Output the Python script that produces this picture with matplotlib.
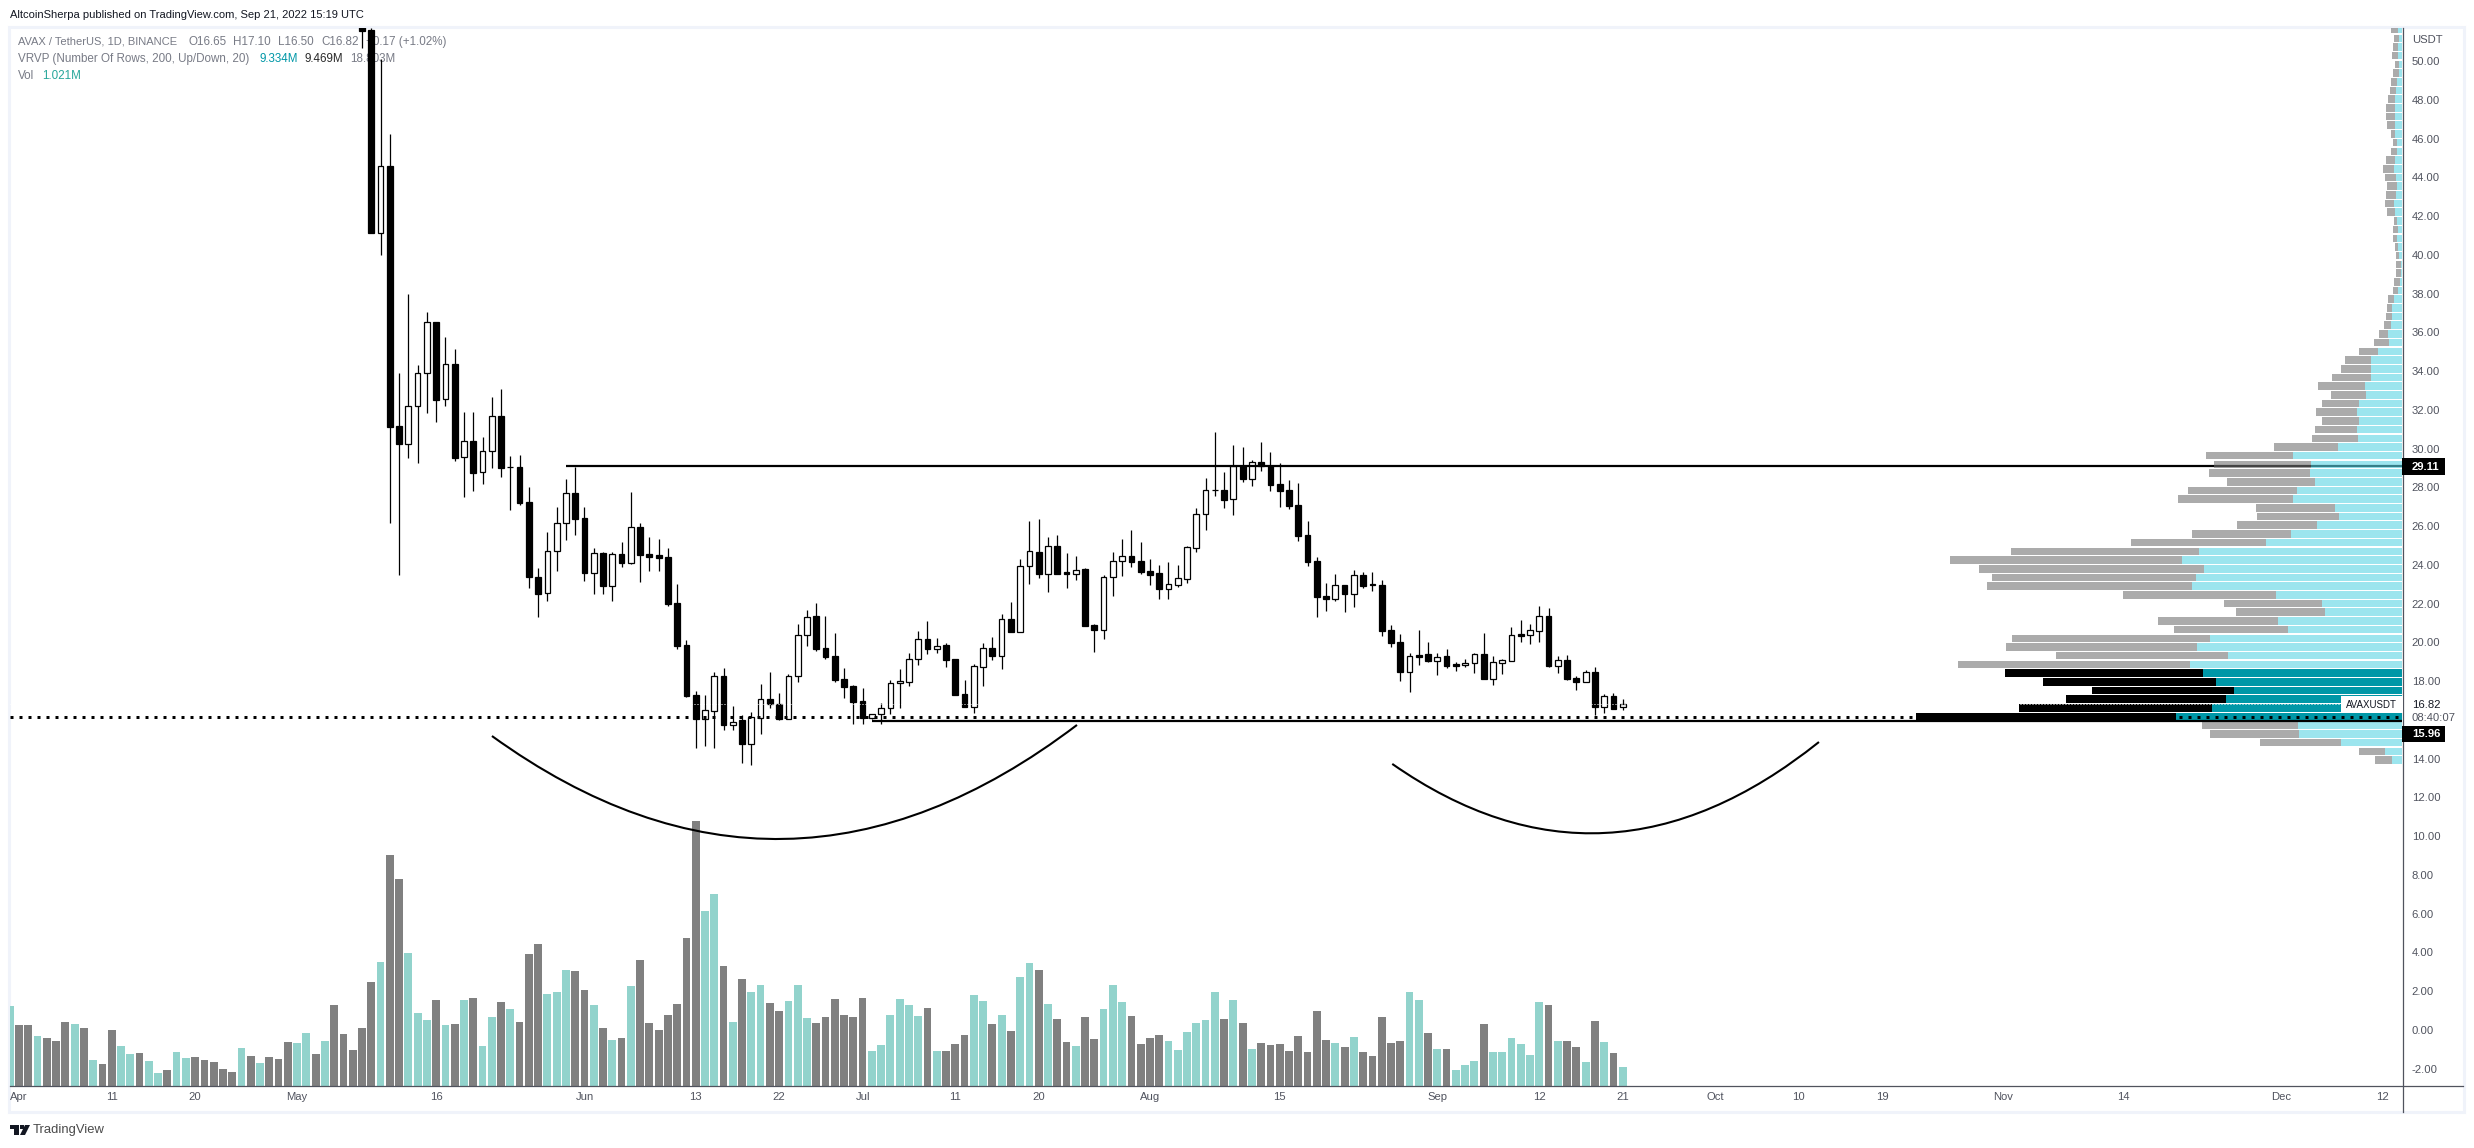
#!/usr/bin/env python3
import numpy as np
import matplotlib
matplotlib.use('Agg')
import matplotlib.pyplot as plt
from matplotlib.patches import Rectangle, PathPatch, Polygon
from matplotlib.path import Path
from matplotlib.lines import Line2D

W, H = 2474, 1148
plt.rcParams['font.family'] = ['Liberation Sans', 'DejaVu Sans']

# candles, first one is day 37 counted from Apr 1
candle_start = 37
opens = [51.74, 51.60, 41.14, 44.58, 31.17, 30.25, 32.18, 33.88, 36.51, 32.54, 34.35, 29.55, 30.37, 28.77, 29.86, 31.66,
         29.04, 29.03, 27.23, 23.37, 22.53, 24.70, 26.14, 27.69, 26.40, 23.60, 24.60, 22.93, 24.54, 24.11, 25.94, 24.54,
         24.49, 24.39, 22.02, 19.85, 17.27, 16.06, 16.48, 18.25, 15.75, 15.98, 14.77, 16.12, 17.06, 16.84, 16.03, 18.25,
         20.40, 21.35, 19.69, 19.28, 18.09, 17.75, 16.97, 16.08, 16.29, 16.60, 17.89, 17.97, 19.12, 20.16, 19.68, 19.85,
         19.13, 17.32, 16.68, 18.75, 19.69, 19.31, 21.19, 20.55, 23.92, 24.65, 23.55, 24.96, 23.62, 23.55, 23.77, 20.88,
         20.66, 23.36, 24.18, 24.46, 24.20, 23.68, 23.58, 22.77, 22.98, 23.29, 24.89, 26.61, 27.85, 27.85, 27.38, 29.12,
         28.45, 29.29, 29.12, 28.17, 27.86, 27.09, 25.54, 24.18, 22.38, 22.26, 22.94, 22.51, 23.46, 23.01, 22.94, 20.62,
         20.00, 18.49, 19.35, 19.38, 19.06, 19.28, 18.87, 18.85, 18.95, 19.38, 18.13, 18.95, 19.06, 20.42, 20.40, 20.61,
         21.35, 18.80, 19.07, 18.15, 17.97, 18.45, 16.65, 17.22, 16.65]
highs = [51.74, 51.70, 50.09, 46.22, 33.88, 37.98, 34.30, 37.05, 36.51, 35.74, 35.12, 31.87, 31.87, 30.58, 32.65, 33.06,
         29.60, 29.65, 28.00, 23.84, 25.70, 26.99, 28.43, 29.07, 26.99, 24.85, 24.65, 24.65, 25.18, 27.74, 26.16, 25.44,
         25.33, 24.85, 23.01, 20.12, 17.47, 17.29, 18.45, 18.66, 16.72, 16.24, 16.39, 17.84, 18.45, 17.37, 18.35, 20.93,
         21.66, 22.02, 21.35, 20.47, 18.66, 17.80, 17.63, 16.29, 16.85, 18.04, 18.61, 19.43, 20.57, 21.09, 20.21, 19.95,
         19.13, 18.04, 18.87, 19.95, 20.26, 21.45, 22.08, 24.29, 26.26, 26.37, 25.42, 25.52, 24.59, 24.44, 23.82, 20.93,
         23.46, 24.65, 25.32, 25.78, 25.16, 24.30, 23.99, 24.13, 23.99, 24.96, 26.93, 28.47, 30.84, 28.77, 30.17, 30.06,
         29.39, 30.32, 29.81, 29.24, 28.38, 28.21, 26.25, 24.39, 23.06, 23.53, 22.94, 23.72, 23.61, 23.61, 23.20, 20.88,
         20.42, 19.43, 20.64, 20.00, 19.43, 19.66, 18.99, 19.13, 19.43, 20.47, 19.28, 19.13, 20.78, 21.16, 20.95, 21.88,
         21.76, 19.28, 19.33, 18.27, 18.56, 18.73, 17.32, 17.37, 17.10]
lows = [50.65, 41.14, 39.99, 26.14, 23.48, 29.51, 29.26, 31.84, 31.37, 32.20, 29.38, 27.50, 27.83, 28.17, 29.00, 28.53,
        26.83, 27.11, 22.81, 21.31, 22.15, 23.68, 25.28, 25.54, 23.17, 22.51, 22.51, 22.15, 23.89, 24.06, 23.12, 23.68,
        23.68, 21.90, 19.67, 17.18, 14.57, 14.67, 14.57, 15.50, 15.50, 13.80, 13.69, 15.29, 16.63, 15.98, 16.03, 17.97,
        19.83, 19.57, 19.16, 17.97, 17.15, 15.79, 15.79, 16.05, 15.79, 16.31, 16.62, 17.75, 18.83, 19.42, 19.47, 18.75,
        17.30, 16.65, 16.36, 17.77, 19.09, 18.64, 20.55, 20.55, 23.00, 23.34, 22.62, 23.55, 22.81, 23.22, 20.86, 19.52,
        20.17, 22.39, 23.42, 23.89, 23.53, 22.96, 22.24, 22.24, 22.86, 23.08, 24.66, 25.80, 27.57, 26.93, 26.59, 28.29,
        28.07, 28.86, 27.83, 27.00, 26.90, 25.25, 23.94, 21.31, 21.64, 22.15, 21.57, 21.83, 22.81, 22.65, 20.33, 19.76,
        18.01, 17.44, 18.83, 18.99, 18.32, 18.68, 18.53, 18.75, 18.42, 18.13, 17.80, 18.37, 19.06, 20.02, 19.92, 20.02,
        18.73, 18.42, 18.06, 17.54, 17.97, 16.25, 16.36, 16.58, 16.50]
closes = [51.56, 41.14, 44.58, 31.13, 30.25, 32.18, 33.88, 36.51, 32.51, 34.35, 29.53, 30.37, 28.76, 29.86, 31.66, 29.02,
          29.03, 27.21, 23.39, 22.51, 24.70, 26.14, 27.69, 26.38, 23.60, 24.60, 22.93, 24.54, 24.11, 25.94, 24.53, 24.42,
          24.37, 22.00, 19.83, 17.25, 16.06, 16.49, 18.25, 15.75, 15.91, 14.77, 16.13, 17.06, 16.84, 16.03, 18.25, 20.40,
          21.30, 19.67, 19.26, 18.08, 17.71, 16.94, 16.08, 16.29, 16.60, 17.89, 17.99, 19.12, 20.16, 19.68, 19.83, 19.11,
          17.30, 16.68, 18.76, 19.69, 19.31, 21.19, 20.55, 23.92, 24.70, 23.55, 24.96, 23.55, 23.55, 23.75, 20.86, 20.66,
          23.36, 24.18, 24.44, 24.15, 23.63, 23.48, 22.76, 22.99, 23.31, 24.90, 26.61, 27.85, 27.84, 27.37, 29.12, 28.45,
          29.29, 29.12, 28.14, 27.83, 27.04, 25.49, 24.17, 22.36, 22.26, 22.94, 22.51, 23.46, 22.91, 22.94, 20.60, 19.99,
          18.49, 19.28, 19.26, 19.06, 19.26, 18.80, 18.80, 18.95, 19.38, 18.13, 18.97, 19.07, 20.36, 20.33, 20.62, 21.35,
          18.78, 19.07, 18.13, 17.96, 18.45, 16.65, 17.22, 16.58, 16.82]

# volume in millions, first bar is Mar 31
volume_start = -1
volume = [4.20, 3.20, 3.20, 2.62, 2.52, 2.36, 3.36, 3.25, 3.04, 1.35, 1.14, 2.94, 2.09, 1.67, 1.72, 1.30, 0.67, 0.83, 1.78, 1.46,
          1.51, 1.35, 1.25, 0.88, 0.72, 1.99, 1.57, 1.20, 1.51, 1.41, 2.30, 2.25, 2.78, 1.67, 2.36, 4.26, 2.73, 1.88, 3.04, 5.47,
          6.53, 12.17, 10.91, 7.00, 3.83, 3.47, 4.52, 3.20, 3.25, 4.52, 4.63, 2.09, 3.62, 4.42, 4.05, 3.36, 6.95, 7.48, 4.84, 4.94,
          6.10, 6.05, 5.05, 4.26, 3.04, 2.41, 2.52, 5.26, 6.63, 3.31, 2.94, 3.73, 4.31, 7.79, 13.97, 9.22, 10.11, 6.31, 3.36, 5.63,
          4.94, 5.31, 4.36, 3.94, 4.47, 5.31, 3.57, 3.31, 3.62, 4.61, 3.76, 3.66, 4.66, 1.86, 2.18, 3.76, 4.61, 4.29, 3.71, 4.13,
          1.86, 1.86, 2.23, 2.71, 4.82, 4.50, 3.29, 3.76, 2.92, 5.77, 6.51, 6.14, 4.34, 3.55, 2.34, 2.13, 3.66, 2.50, 4.08, 5.35,
          4.45, 3.71, 2.23, 2.55, 2.71, 2.39, 1.92, 2.87, 3.34, 3.50, 4.98, 3.55, 4.56, 3.34, 1.97, 2.29, 2.18, 2.23, 1.86, 2.66,
          1.81, 3.98, 2.45, 2.29, 2.08, 2.60, 1.81, 1.60, 3.66, 2.29, 2.39, 4.98, 4.56, 2.81, 1.97, 1.97, 0.86, 1.13, 1.34, 3.29,
          1.81, 1.81, 2.55, 2.23, 1.65, 4.45, 4.29, 2.39, 2.39, 2.08, 1.28, 3.45, 2.34, 1.76, 1.02]
volume_dir = ("c" "ggcgggcgcg" "gccgccgccg" "ggggcgcggg" "ccgcgggggc" "ggcccgcgcg" "ccgcgggccc" "ggcgcgcggg" "ggggccgcgc"
              "cggcccgggg" "ggccccccgc" "gggccgcgcc" "gcggcggccc" "ggggcccccc" "gcgcgggggg" "ggcgcggggg" "ccgcgcccgc"
              "cccccgcggc" "gcgc")

# volume profile, rows from top to bottom, share of the largest row in percent
vp_total = [2.33, 1.72, 1.92, 2.13, 1.51, 1.92, 2.33, 2.54, 2.95, 3.36, 3.36, 3.16, 2.33, 1.92, 2.33, 3.36, 3.98, 3.57, 3.16, 3.36,
            3.57, 3.16, 1.72, 1.92, 1.92, 1.51, 1.30, 1.30, 1.30, 1.72, 1.92, 2.95, 3.16, 3.36, 3.77, 4.80, 5.83, 8.92, 11.81, 12.63,
            14.48, 17.33, 14.69, 16.50, 17.78, 16.50, 17.93, 18.61, 26.38, 40.39, 38.73, 39.79, 36.10, 44.08, 46.19, 30.14, 29.92, 33.99, 43.26, 55.84,
            80.56, 93.07, 87.11, 84.48, 85.46, 57.50, 36.70, 34.21, 50.26, 47.02, 80.33, 81.54, 71.29, 91.48, 81.76, 73.93, 63.90, 69.25, 78.90, 100.0,
            41.22, 39.56, 29.31, 8.89, 5.58]
vp_up = [0.82, 0.69, 0.89, 0.89, 0.69, 0.69, 1.10, 1.30, 1.51, 1.51, 1.51, 1.51, 1.51, 1.10, 1.10, 1.51, 1.72, 1.30, 1.10, 1.30,
         1.72, 1.51, 1.10, 0.89, 1.10, 0.89, 0.69, 0.27, 0.27, 0.48, 0.89, 1.72, 2.13, 2.13, 2.33, 2.95, 2.75, 5.01, 6.45, 6.45,
         6.45, 7.69, 7.46, 8.89, 9.34, 8.89, 9.34, 9.12, 13.26, 22.46, 18.76, 18.99, 17.93, 21.70, 22.46, 13.87, 13.04, 17.56, 22.91, 28.03,
         41.82, 45.37, 40.84, 42.43, 43.26, 26.00, 16.50, 15.90, 25.55, 23.51, 39.56, 42.28, 35.87, 43.71, 40.99, 38.36, 34.66, 36.25, 39.19, 46.57,
         21.48, 21.25, 12.58, 3.54, 2.11]
vp_low_price = 13.93
vp_row_step = 0.4487
vp_dark_range = (16.0, 18.6)

# drawings
resistance = 29.11
resistance_start = 59.0
support = 15.96
support_start = 92.0
dotted_level = 16.13
last_price = 16.82
arc1_days = [51.02, 82.58, 114.13]
arc1_prices = [15.17, 4.26, 15.74]
arc2_days = [148.14, 171.14, 194.17]
arc2_prices = [13.73, 6.04, 14.86]

price_ticks = [50, 48, 46, 44, 42, 40, 38, 36, 34, 32, 30, 28, 26, 24, 22, 20, 18, 14, 12, 10, 8, 6, 4, 2, 0, -2]
date_ticks = [0, 10, 19, 30, 45, 61, 73, 82, 91, 101, 110, 122, 136, 153, 164, 173, 183, 192, 201, 214, 227, 244, 255]
date_labels = ['Apr', '11', '20', 'May', '16', 'Jun', '13', '22', 'Jul', '11', '20', 'Aug', '15', 'Sep', '12', '21',
               'Oct', '10', '19', 'Nov', '14', 'Dec', '12']

AXIS_COLOR = '#50535e'
TEXT_COLOR = '#50535e'
LEGEND_COLOR = '#787b86'
FRAME_COLOR = '#f0f3fa'
CANDLE_COLOR = '#000000'
FONT_PT = 8.1
LEGEND_PT = 8.35


def fx(px):
    return px / W


def fy(px):
    return 1 - px / H


def label(fig, x, y, text, color=TEXT_COLOR, size=FONT_PT, weight='normal', ha='left', zorder=0.5):
    fig.text(fx(x), fy(y), text, color=color, fontsize=size, fontweight=weight, ha=ha, va='center', zorder=zorder)


def draw_arc(ax, days, prices):
    path = Path(list(zip(days, prices)), [Path.MOVETO, Path.CURVE3, Path.CURVE3])
    ax.add_patch(PathPatch(path, facecolor='none', edgecolor='black', linewidth=1.5, zorder=4))


def main():
    fig = plt.figure(figsize=(W / 100, H / 100), dpi=100, facecolor='white')
    left, right, top, bottom = 10, 2402, 28, 1086
    pos = [fx(left), fy(bottom), (right - left) / W, (bottom - top) / H]

    axv = fig.add_axes(pos, zorder=1)
    ax = fig.add_axes(pos, zorder=2)
    axp = fig.add_axes(pos, zorder=3)
    for a in (axv, ax, axp):
        a.patch.set_visible(False)
        for s in a.spines.values():
            s.set_visible(False)

    # volume
    vol_days = np.arange(len(volume)) + volume_start
    vol_colors = ['#92d3cc' if c == 'c' else '#808080' for c in volume_dir]
    axv.bar(vol_days, volume, width=0.84, color=vol_colors, linewidth=0)
    axv.axis('off')

    # candles
    days = np.arange(len(opens)) + candle_start
    o = np.array(opens)
    c = np.array(closes)
    ax.vlines(days, lows, highs, color=CANDLE_COLOR, linewidth=0.9, zorder=2)
    ax.bar(days, np.abs(c - o), bottom=np.minimum(o, c), width=0.62, linewidth=0.9, edgecolor=CANDLE_COLOR,
           color=[CANDLE_COLOR if cl < op else 'white' for op, cl in zip(o, c)], zorder=3)

    ax.plot([resistance_start, 257.5], [resistance, resistance], color='black', linewidth=1.6, zorder=4,
            solid_capstyle='butt')
    draw_arc(ax, arc1_days, arc1_prices)
    draw_arc(ax, arc2_days, arc2_prices)

    ax.set_xticks(date_ticks)
    ax.set_xticklabels(date_labels, fontsize=FONT_PT, color=TEXT_COLOR)
    ax.set_yticks(price_ticks)
    ax.set_yticklabels([f'{p:.2f}' for p in price_ticks], fontsize=FONT_PT, color=TEXT_COLOR)
    ax.yaxis.tick_right()
    ax.tick_params(axis='x', length=0, pad=4.5)
    ax.tick_params(axis='y', length=0, pad=7)

    # volume profile, grows leftwards from the price scale
    total = np.array(vp_total)
    up = np.array(vp_up)
    rows = vp_low_price + vp_row_step * np.arange(len(total))[::-1]
    dark = (rows > vp_dark_range[0]) & (rows < vp_dark_range[1])
    row_h = 0.39
    axp.barh(rows[~dark], up[~dark], height=row_h, color='#5ad5e4', alpha=0.6, linewidth=0)
    axp.barh(rows[~dark], (total - up)[~dark], left=up[~dark], height=row_h, color='#737373', alpha=0.6, linewidth=0)
    axp.barh(rows[dark], up[dark], height=row_h, color='#0097a7', linewidth=0)
    axp.barh(rows[dark], (total - up)[dark], left=up[dark], height=row_h, color='black', linewidth=0)
    axp.axis('off')

    # lines that sit on top of the profile
    axp.plot([support_start, 257.5], [support, support], transform=ax.transData, color='black', linewidth=1.6,
             solid_capstyle='butt', zorder=5)
    trans = axp.get_yaxis_transform()
    axp.plot([0, 1], [dotted_level, dotted_level], transform=trans, color='black', linewidth=2.16,
             linestyle=(0, (1, 2)), dash_capstyle='butt', zorder=6)
    axp.plot([0, 1], [last_price, last_price], transform=trans, color='white', linewidth=0.72,
             linestyle=(0, (1, 2)), dash_capstyle='butt', zorder=6)

    # scales
    xlim = ((left - 19) / 9.27, (right - 19) / 9.27)
    ylim = (50 - (bottom - 61) / 19.38, 50 - (top - 61) / 19.38)
    ax.set_xlim(xlim)
    ax.set_ylim(ylim)
    axv.set_xlim(xlim)
    axv.set_ylim(0, (bottom - top) / 18.95)
    axp.set_xlim((right - left) / 4.858, 0)
    axp.set_ylim(ylim)

    # frame and axis lines
    fig.add_artist(Rectangle((fx(9), fy(1112)), (2464 - 9) / W, (1112 - 27) / H, transform=fig.transFigure,
                             facecolor='none', edgecolor=FRAME_COLOR, linewidth=2.2, zorder=0.2))
    fig.add_artist(Line2D([fx(10), fx(2463)], [fy(1086), fy(1086)], color=AXIS_COLOR, linewidth=0.9, zorder=4))
    fig.add_artist(Line2D([fx(2402.5), fx(2402.5)], [fy(28), fy(1112)], color=AXIS_COLOR, linewidth=0.9, zorder=4))

    # header and legend
    label(fig, 10, 15, 'AltcoinSherpa published on TradingView.com, Sep 21, 2022 15:19 UTC', color='#131722', size=8.0)
    label(fig, 18, 42, 'AVAX / TetherUS, 1D, BINANCE', color=LEGEND_COLOR, size=8.0)
    for x, t in [(188.6, 'O16.65'), (233, 'H17.10'), (278, 'L16.50'), (321, 'C16.82'), (366, '+0.17 (+1.02%)')]:
        label(fig, x, 42, t, color=LEGEND_COLOR, size=LEGEND_PT)
    label(fig, 18, 59, 'VRVP (Number Of Rows, 200, Up/Down, 20)', color=LEGEND_COLOR, size=LEGEND_PT)
    label(fig, 259, 59, '9.334M', color='#0097a7', size=LEGEND_PT)
    label(fig, 304.5, 59, '9.469M', color='#2a2a2a', size=LEGEND_PT)
    label(fig, 350, 59, '18.803M', color=LEGEND_COLOR, size=LEGEND_PT)
    label(fig, 18, 76, 'Vol', color=LEGEND_COLOR, size=LEGEND_PT)
    label(fig, 42, 76, '1.021M', color='#26a69a', size=LEGEND_PT)

    # price scale extras
    label(fig, 2412, 40, 'USDT')
    for y0, y1, t in [(458, 475, '29.11'), (726, 742, '15.96')]:
        fig.add_artist(Rectangle((fx(2402), fy(y1)), 43 / W, (y1 - y0) / H, transform=fig.transFigure,
                                 facecolor='black', edgecolor='none', zorder=5))
        label(fig, 2412, (y0 + y1) / 2, t, color='white', weight='bold', zorder=6)
    fig.add_artist(Rectangle((fx(2341), fy(713)), 62 / W, 17 / H, transform=fig.transFigure,
                             facecolor='white', edgecolor='none', zorder=5))
    label(fig, 2346, 705, 'AVAXUSDT', color='#131722', size=7.0, zorder=6)
    label(fig, 2412, 705, '16.82', color='#131722', zorder=6)
    label(fig, 2412, 718, '08:40:07', zorder=6)

    # logo
    logo_parts = [[(10, 1125), (19, 1125), (19, 1135), (14, 1135), (14, 1129), (10, 1129)],
                  [(20, 1125), (24, 1125), (24, 1129), (20, 1129)],
                  [(25, 1125), (30, 1125), (25, 1135), (20, 1135)]]
    for part in logo_parts:
        fig.add_artist(Polygon([(fx(x), fy(y)) for x, y in part], transform=fig.transFigure, facecolor='#131722',
                               edgecolor='none'))
    label(fig, 33, 1130, 'TradingView', color='#4a4a4a', size=9.4)

    fig.savefig('out.png', dpi=100)


if __name__ == '__main__':
    main()
